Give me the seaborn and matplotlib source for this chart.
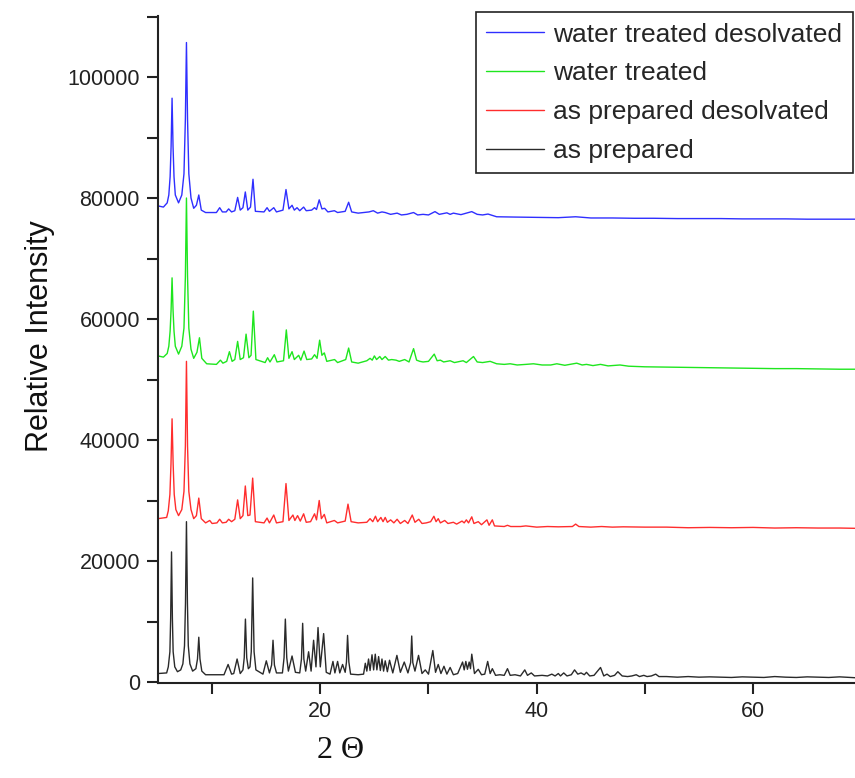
import matplotlib
matplotlib.use("Agg")
import matplotlib.pyplot as plt
import seaborn as sns
import pandas as pd
from matplotlib.ticker import MultipleLocator

# Powder XRD patterns (2-theta in degrees, intensity in counts), stacked by offset
as_prepared_2theta = [
    5.0, 5.8, 5.95, 6.1, 6.17, 6.25, 6.33, 6.4, 6.55, 6.8, 7.1, 7.3, 7.45, 7.54, 7.63,
    7.72, 7.8, 7.95, 8.2, 8.5, 8.65, 8.77, 8.88, 9.05, 9.4,
    11.1, 11.48, 11.8, 12.0, 12.31, 12.6, 12.85, 12.97, 13.08, 13.2, 13.35, 13.5,
    13.62, 13.75, 13.88, 14.05, 14.7, 15.01, 15.3, 15.5, 15.63, 15.76, 15.95, 16.5,
    16.65, 16.77, 16.9, 17.05, 17.39, 17.7, 18.1, 18.26, 18.37, 18.48,
    18.65, 18.92, 19.15, 19.38, 19.6, 19.79, 20.0, 20.31, 20.55, 20.9, 21.17, 21.35,
    21.6, 21.8, 22.06, 22.3, 22.42, 22.52, 22.64, 22.8, 23.5, 24.0, 24.16, 24.3, 24.46, 24.6,
    24.78, 24.93, 25.08, 25.23, 25.39, 25.55, 25.7, 25.85, 26.0, 26.2, 26.4, 26.7,
    27.08, 27.4, 27.76, 28.1, 28.35, 28.45, 28.55, 28.75, 29.08, 29.4, 29.7, 30.0, 30.4, 30.65,
    30.9, 31.15, 31.43, 31.7, 32.0, 32.3, 32.7, 33.15, 33.3, 33.45, 33.6, 33.76,
    33.88, 34.0, 34.25, 34.6, 34.9, 35.2, 35.47, 35.7, 35.9, 36.2, 36.6, 37.0, 37.3,
    37.55, 38.0, 38.5, 38.9, 39.15, 39.5, 39.8, 40.5, 41.0, 41.4, 41.7, 42.0, 42.2,
    42.5, 42.8, 43.2, 43.5, 43.8, 44.1, 44.4, 44.6, 44.9, 45.3, 45.9, 46.2, 46.5,
    46.8, 47.2, 47.5, 47.9, 48.4, 48.8, 49.2, 49.5, 49.9, 50.2, 50.6, 51.0, 51.3,
    52.0, 53.0, 54.0, 55.0, 56.0, 57.0, 58.0, 59.0, 60.0, 61.0, 62.0, 63.0, 64.0,
    65.0, 66.0, 67.0, 68.0, 69.5,
]
as_prepared_counts = [
    1400, 1500, 2500, 5000, 10500, 21500, 10500, 5000, 2500, 1700, 2000, 3000, 6000, 13000, 26500,
    13000, 6000, 3000, 1800, 2200, 3800, 7400, 3800, 1800, 1200,
    1200, 2900, 1300, 1400, 3800, 1400, 2000, 4000, 10400, 4000, 2200, 2500,
    5000, 17200, 5000, 2000, 1300, 3500, 1500, 2800, 6900, 2800, 1500, 1500,
    4000, 10400, 4000, 1800, 4300, 1600, 1500, 3800, 9700, 3800,
    1800, 5000, 1800, 6900, 2500, 9000, 2500, 8000, 1600, 1300, 3400, 1500,
    3400, 1500, 2900, 1600, 3300, 7700, 3300, 1300, 1200, 1300, 3100, 1800, 3800, 1900,
    4500, 2000, 4600, 2000, 4200, 1900, 3800, 1800, 3500, 1700, 3600, 1500,
    4400, 1600, 3300, 1500, 3200, 7600, 3200, 1800, 4400, 1400, 2000, 1300, 5200, 1600,
    2900, 1400, 2600, 1300, 2400, 1200, 1400, 3300, 2000, 3400, 2100, 3300,
    2200, 4600, 1400, 2100, 1200, 1300, 3400, 1400, 2200, 1100, 1200, 1100, 2200,
    1100, 1200, 1000, 2000, 1100, 1500, 1000, 1100, 1000, 1300, 1000, 1400, 1000,
    1500, 1000, 1200, 2000, 1300, 1500, 1200, 1600, 1000, 1100, 2400, 1000, 1300,
    900, 1100, 1700, 1000, 900, 1000, 1200, 900, 1100, 900, 1000, 1300, 900,
    900, 800, 900, 800, 850, 800, 750, 850, 800, 750, 900, 800, 750,
    850, 800, 750, 850, 700,
]

as_prepared_desolv_2theta = [
    5.0, 5.8, 5.95, 6.1, 6.2, 6.3, 6.4, 6.5, 6.65, 6.9, 7.2, 7.4, 7.53, 7.63, 7.73,
    7.85, 8.05, 8.3, 8.55, 8.77, 9.0, 9.4, 9.78,
    10.0, 10.45, 10.7, 10.95, 11.3, 11.53, 11.8, 12.1, 12.36, 12.6, 12.85, 13.07,
    13.3, 13.5, 13.75, 14.0, 14.8, 15.08, 15.3, 15.7, 15.95, 16.55, 16.83, 17.1,
    17.47, 17.65, 17.9, 18.15, 18.46, 18.7, 19.1, 19.47, 19.65, 19.9, 20.1, 20.37,
    20.6, 21.3, 21.6, 22.3, 22.56, 22.85, 23.5, 24.3, 24.6, 24.85, 25.1, 25.3, 25.6,
    25.8, 26.0, 26.2, 26.5, 26.8, 27.1, 27.4, 27.8, 28.1, 28.5, 28.75, 29.1, 29.4,
    29.8, 30.2, 30.5, 30.7, 30.9, 31.1, 31.5, 31.8, 32.3, 32.6, 33.1, 33.3, 33.5,
    33.7, 34.0, 34.2, 34.6, 34.9, 35.4, 35.6, 35.9, 36.1, 37.0, 37.3, 37.6, 38.5,
    39.0, 40.0, 41.0, 42.0, 43.3, 43.6, 43.9, 45.0, 46.0, 47.0, 48.0, 50.0, 52.0,
    54.0, 56.0, 58.0, 60.0, 62.0, 64.0, 66.0, 68.0, 69.5,
]
as_prepared_desolv_counts = [
    27000, 27200, 28300, 31000, 36000, 43500, 36000, 31000, 28500, 27500, 28500, 31500, 39000, 53000, 39000,
    31500, 28500, 27000, 27500, 30400, 27000, 26300, 26700,
    26200, 26300, 26900, 26300, 26400, 26900, 26500, 26900, 30100, 27000, 27500, 32400,
    27500, 27600, 33700, 26500, 26300, 27100, 26300, 27600, 26300, 26500, 32800, 26700,
    27600, 26700, 27500, 26600, 27800, 26400, 26500, 27800, 26800, 30000, 27000, 27700,
    26300, 26700, 26300, 26600, 29400, 26500, 26300, 26400, 27000, 26500, 27400, 26500, 27200,
    26500, 27200, 26400, 26800, 26300, 26900, 26200, 26700, 26200, 27600, 26400, 26900, 26200,
    26300, 26500, 27400, 26500, 27000, 26300, 26700, 26200, 26400, 26100, 26600, 26300, 26800,
    26300, 27300, 26200, 26500, 26000, 26800, 25900, 26800, 25800, 25700, 25900, 25700, 25700,
    25800, 25600, 25700, 25650, 25700, 26100, 25700, 25600, 25700, 25600, 25650, 25600, 25600,
    25500, 25550, 25500, 25550, 25450, 25500, 25450, 25450, 25400,
]

water_treated_2theta = [
    5.0, 5.5, 5.85, 6.0, 6.12, 6.21, 6.3, 6.39, 6.48, 6.6, 6.9, 7.2, 7.4, 7.53, 7.63,
    7.73, 7.85, 8.05, 8.3, 8.6, 8.83, 9.05, 9.5,
    10.4, 10.77, 11.0, 11.35, 11.6, 11.85, 12.1, 12.36, 12.6, 12.9, 13.14, 13.4,
    13.6, 13.81, 14.05, 14.9, 15.13, 15.35, 15.75, 16.0, 16.6, 16.86, 17.1, 17.39,
    17.6, 18.0, 18.2, 18.5, 18.75, 19.2, 19.47, 19.7, 19.94, 20.15, 20.37, 20.6,
    21.32, 21.6, 22.35, 22.62, 22.9, 23.5, 24.3, 24.6, 24.8, 25.0, 25.2, 25.5, 25.7,
    26.0, 26.3, 26.6, 27.0, 27.3, 27.8, 28.2, 28.62, 28.9, 29.2, 29.5, 30.0, 30.53,
    30.8, 31.1, 31.4, 32.0, 32.4, 33.2, 33.5, 34.16, 34.5, 35.0, 35.7, 36.3, 37.0,
    37.55, 38.2, 39.0, 39.7, 40.5, 41.3, 41.86, 42.6, 43.7, 44.2, 44.6, 45.2, 45.9,
    46.6, 47.7, 48.5, 50.0, 52.0, 54.0, 56.0, 58.0, 60.0, 62.0, 64.0, 66.0, 68.0, 69.5,
]
water_treated_counts = [
    53900, 53700, 54300, 55500, 58000, 61500, 66800, 61500, 58000, 55500, 54200, 55500, 58500, 67000, 80000,
    67000, 58500, 55000, 53500, 54500, 56900, 53500, 52600,
    52500, 53200, 52700, 53000, 54600, 53000, 53300, 56300, 53300, 53600, 57500, 53600,
    54000, 61300, 53300, 52800, 53600, 52900, 54100, 52900, 53100, 58200, 53500, 54600,
    53300, 54000, 53200, 54700, 53300, 53400, 54100, 53500, 56500, 54000, 54400, 53000,
    53300, 52800, 53300, 55200, 52900, 52700, 53100, 53500, 53200, 53900, 53300, 53800, 53300,
    53800, 53200, 53300, 53200, 53000, 53300, 52900, 55100, 53200, 53000, 52900, 53000, 54200,
    53100, 53200, 52900, 53100, 52800, 53100, 52800, 53800, 52900, 52800, 53000, 52600, 52500,
    52600, 52400, 52500, 52600, 52400, 52400, 52600, 52350, 52700, 52400, 52500, 52300, 52500,
    52250, 52400, 52200, 52100, 52050, 52000, 51950, 51900, 51850, 51800, 51800, 51750, 51700, 51700,
]

water_treated_desolv_2theta = [
    5.0, 5.5, 5.85, 6.0, 6.12, 6.21, 6.3, 6.39, 6.48, 6.6, 6.9, 7.2, 7.4, 7.53, 7.63,
    7.73, 7.85, 8.05, 8.3, 8.55, 8.77, 9.0, 9.4,
    10.4, 10.7, 10.95, 11.3, 11.53, 11.8, 12.1, 12.36, 12.6, 12.85, 13.07, 13.3,
    13.55, 13.78, 14.0, 14.8, 15.08, 15.3, 15.7, 15.95, 16.55, 16.83, 17.1, 17.39,
    17.6, 17.85, 18.1, 18.46, 18.7, 19.2, 19.47, 19.65, 19.9, 20.15, 20.4, 20.7,
    21.3, 21.6, 22.3, 22.62, 22.9, 23.5, 24.5, 24.9, 25.3, 25.7, 26.0, 26.5, 27.1,
    27.5, 28.0, 28.62, 29.0, 29.5, 30.0, 30.6, 31.0, 31.7, 32.0, 32.3, 33.0, 34.0,
    34.5, 35.0, 35.5, 36.3, 38.0, 40.0, 42.0, 43.6, 45.0, 47.0, 49.0, 50.8, 53.0,
    55.0, 57.0, 59.0, 61.0, 63.0, 65.0, 67.0, 69.5,
]
water_treated_desolv_counts = [
    78700, 78500, 79200, 80500, 83500, 88500, 96500, 88500, 83500, 80500, 79200, 80500, 84000, 93000, 105700,
    93000, 84000, 80000, 78300, 78800, 80500, 78000, 77600,
    77600, 78400, 77700, 77700, 78200, 77700, 77900, 80100, 78000, 78400, 81000, 78000,
    78500, 83100, 77800, 77700, 78400, 77800, 78400, 77700, 78000, 81400, 78200, 78800,
    78000, 78400, 77900, 78500, 77900, 78000, 78400, 78100, 79700, 78200, 78300, 77700,
    77900, 77600, 77800, 79300, 77700, 77500, 77700, 77900, 77500, 77700, 77600, 77300, 77500,
    77200, 77300, 77600, 77200, 77300, 77200, 77750, 77300, 77550, 77300, 77500, 77250, 77750,
    77300, 77200, 77350, 76900, 76850, 76800, 76750, 76900, 76700, 76700, 76650, 76650, 76600,
    76600, 76600, 76550, 76550, 76550, 76500, 76500, 76500,
]

labels = ["water treated desolvated", "water treated",
          "as prepared desolvated", "as prepared"]
colors = ["#2f2fff", "#1ee61e", "#ff2d2d", "#2a2a2a"]

x_ticks = [20, 40, 60]
y_ticks = [0, 20000, 40000, 60000, 80000, 100000]

series = [
    (water_treated_desolv_2theta, water_treated_desolv_counts),
    (water_treated_2theta, water_treated_counts),
    (as_prepared_desolv_2theta, as_prepared_desolv_counts),
    (as_prepared_2theta, as_prepared_counts),
]

sns.set_theme(style="white")
plt.rcParams["font.family"] = ["Liberation Sans", "DejaVu Sans"]

fig = plt.figure(figsize=(8.55, 7.78), dpi=100)
ax = fig.add_axes([158 / 855, 1 - 683 / 778, 1 - 158 / 855, (683 - 16) / 778])

# draw the bottom trace first so the upper traces sit on top
for (tt, cc), lab, col in reversed(list(zip(series, labels, colors))):
    df = pd.DataFrame({"two_theta": tt, "intensity": cc})
    sns.lineplot(data=df, x="two_theta", y="intensity", sort=False, estimator=None,
                 color=col, linewidth=1.0, ax=ax, label=lab)

h, l = ax.get_legend_handles_labels()
order = [l.index(lab) for lab in labels]
leg = ax.legend([h[i] for i in order], [l[i] for i in order],
                loc="upper right", bbox_to_anchor=(853 / 855, 1 - 12 / 778),
                bbox_transform=fig.transFigure, frameon=True, fancybox=False,
                edgecolor="#222222", framealpha=1.0, fontsize=19,
                handlelength=2.2, handletextpad=0.35, labelspacing=0.56,
                borderpad=0.4, borderaxespad=0)
leg.get_frame().set_linewidth(1.2)

ax.set_xlim(5, 69.42)
ax.set_ylim(-165, 110085)
ax.set_xticks(x_ticks)
ax.set_yticks(y_ticks)
ax.xaxis.set_minor_locator(MultipleLocator(10))
ax.yaxis.set_minor_locator(MultipleLocator(10000))

for side in ["top", "right"]:
    ax.spines[side].set_visible(False)
for side in ["left", "bottom"]:
    ax.spines[side].set_linewidth(1.5)
    ax.spines[side].set_color("#222222")

ax.tick_params(axis="both", which="major", direction="out", length=8, width=1.5,
               color="#222222", labelsize=15.5, labelcolor="#222222", pad=5,
               left=True, bottom=True)
ax.tick_params(axis="both", which="minor", direction="out", length=8, width=1.5,
               color="#222222", left=True, bottom=True)

ax.set_ylabel("Relative Intensity", fontsize=22, color="#111111")
ax.yaxis.set_label_coords(-0.148, 0.52)
ax.set_xlabel("2 \u0398", fontsize=23, family=["Liberation Serif", "DejaVu Serif"],
              color="#111111")
ax.xaxis.set_label_coords(0.2626, -0.08)

fig.savefig("out.png", dpi=100)
